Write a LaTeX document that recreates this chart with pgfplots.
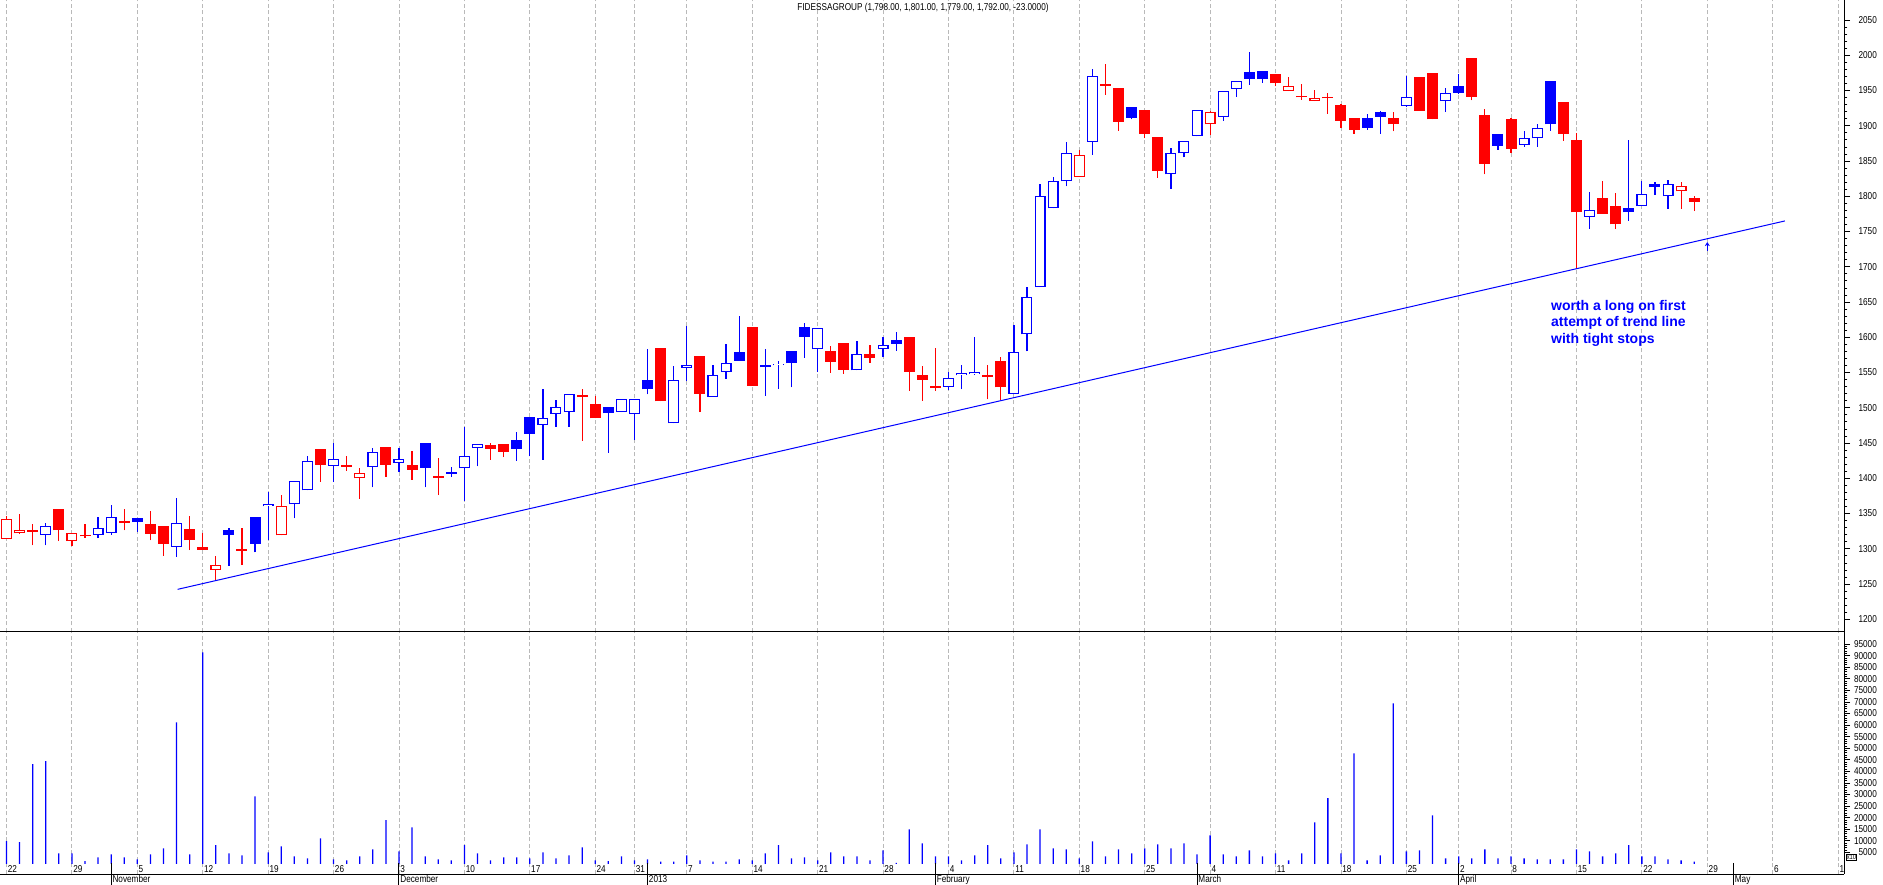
\documentclass[border=0pt]{standalone}
\usepackage{pgfplots}
\pgfplotsset{compat=1.18}
\usepackage{pgfplotstable}
\usepackage{graphicx}
\usepackage{fontspec}
\setmainfont{Liberation Sans}
\usetikzlibrary{arrows.meta}

\definecolor{cred}{RGB}{255,0,0}
\definecolor{cblue}{RGB}{0,0,255}
\definecolor{cgrid}{RGB}{185,185,185}

\newcommand{\nl}[1]{\scalebox{0.82}[1]{#1}}

\tikzset{
  daylbl/.style={anchor=south west, inner sep=1.2bp, font=\fontsize{10bp}{12bp}\selectfont},
  monlbl/.style={anchor=north west, inner sep=1.2bp, font=\fontsize{10bp}{12bp}\selectfont},
}

\pgfplotstableread{
i O H L C b h V
0 1314 1346 1314 1342 0 1 9.9
1 1322 1350 1321 1327 0 1 9.4
2 1326 1335 1305 1325 0 0 43.1
3 1320 1337 1305 1333 1 1 44.4
4 1356 1357 1311 1326 0 0 4.6
5 1311 1322 1304 1322 0 1 4.6
6 1320 1335 1316 1318 0 0 1.2
7 1320 1345 1315 1330 1 1 2.9
8 1323 1362 1320 1345 1 1 4.2
9 1340 1356 1326 1337 0 0 2.9
10 1343 1343 1324 1338 1 0 2.0
11 1335 1354 1312 1321 0 0 4.2
12 1332 1333 1290 1307 0 0 6.8
13 1303 1372 1289 1336 1 1 61.2
14 1328 1347 1298 1312 0 0 4.2
15 1303 1322 1299 1299 0 0 91.4
16 1270 1290 1255 1277 0 1 8.1
17 1327 1329 1276 1319 1 0 4.6
18 1299 1330 1277 1298 0 0 3.7
19 1345 1345 1295 1307 1 0 29.2
20 1360 1380 1312 1364 1 1 5.0
21 1319 1376 1319 1360 0 1 7.6
22 1363 1396 1343 1396 1 1 3.3
23 1383 1432 1383 1425 1 1 2.4
24 1442 1442 1395 1419 0 0 11.1
25 1418 1450 1395 1427 1 1 2.0
26 1418 1432 1411 1417 0 0 1.6
27 1400 1414 1371 1408 0 1 3.3
28 1416 1443 1387 1438 1 1 6.3
29 1444 1444 1402 1419 0 0 18.9
30 1422 1443 1409 1427 1 1 5.5
31 1419 1439 1398 1412 0 0 15.8
32 1450 1450 1387 1415 1 0 3.3
33 1402 1429 1376 1401 0 0 2.0
34 1407 1416 1402 1408 1 0 1.6
35 1414 1473 1368 1431 1 1 8.1
36 1443 1448 1417 1448 1 1 4.6
37 1447 1450 1426 1442 0 0 1.6
38 1448 1448 1430 1438 0 0 2.9
39 1454 1466 1425 1442 1 0 2.9
40 1487 1487 1431 1463 1 0 2.4
41 1476 1526 1426 1485 1 1 5.0
42 1491 1511 1473 1501 1 1 2.4
43 1494 1519 1473 1519 1 1 3.7
44 1517 1526 1453 1516 0 0 7.2
45 1506 1517 1485 1485 0 0 1.6
46 1501 1501 1436 1492 1 0 1.2
47 1494 1512 1494 1512 1 1 3.3
48 1491 1513 1454 1513 1 1 1.6
49 1539 1583 1519 1526 1 0 2.0
50 1585 1585 1509 1509 0 0 1.0
51 1478 1559 1478 1539 1 1 1.0
52 1557 1616 1538 1560 1 1 3.7
53 1573 1573 1494 1520 0 0 1.6
54 1516 1561 1516 1546 1 1 1.0
55 1551 1590 1541 1563 1 1 1.0
56 1579 1630 1567 1567 1 0 2.0
57 1614 1614 1531 1531 0 0 1.6
58 1560 1583 1517 1558 1 0 4.6
59 1561 1566 1527 1562 1 1 8.1
60 1581 1581 1529 1563 1 0 2.4
61 1614 1620 1571 1601 1 0 2.9
62 1583 1613 1551 1613 1 1 1.6
63 1581 1588 1550 1565 0 0 5.0
64 1592 1592 1548 1554 0 0 3.3
65 1553 1595 1553 1576 1 1 3.3
66 1576 1589 1564 1571 0 0 1.6
67 1583 1600 1572 1589 1 1 5.9
68 1596 1607 1581 1591 1 0 0.5
69 1600 1600 1524 1551 0 0 15.0
70 1547 1559 1510 1540 0 0 8.9
71 1531 1585 1524 1528 0 0 3.3
72 1530 1551 1525 1542 1 1 3.3
73 1546 1561 1526 1549 1 1 1.6
74 1548 1600 1547 1551 1 1 3.7
75 1546 1561 1512 1544 0 0 8.1
76 1566 1572 1511 1529 0 0 2.4
77 1520 1618 1519 1579 1 1 5.0
78 1604 1671 1580 1657 1 1 8.5
79 1671 1818 1671 1801 1 1 15.0
80 1783 1827 1783 1821 1 1 6.8
81 1821 1877 1814 1862 1 1 6.3
82 1827 1866 1827 1859 0 1 2.4
83 1877 1980 1859 1971 1 1 9.8
84 1959 1988 1944 1957 0 0 3.3
85 1954 1954 1893 1906 0 0 6.3
86 1927 1927 1909 1911 1 0 4.6
87 1922 1922 1882 1889 0 0 6.8
88 1884 1884 1826 1836 0 0 8.5
89 1831 1868 1811 1861 1 1 6.8
90 1861 1878 1855 1878 1 1 8.9
91 1886 1923 1885 1922 1 1 4.2
92 1902 1921 1887 1920 0 1 12.4
93 1913 1950 1907 1950 1 1 4.2
94 1952 1963 1941 1963 1 1 3.3
95 1976 2005 1958 1966 1 0 5.9
96 1977 1977 1961 1967 1 0 3.3
97 1973 1973 1956 1960 0 0 4.6
98 1949 1969 1949 1957 0 1 1.6
99 1942 1959 1937 1941 0 0 4.6
100 1935 1951 1935 1940 0 1 18.0
101 1941 1946 1917 1939 0 0 28.4
102 1930 1931 1897 1907 0 0 4.6
103 1911 1911 1889 1894 0 0 47.8
104 1911 1917 1894 1897 1 0 1.6
105 1920 1921 1889 1913 1 0 3.7
106 1911 1920 1892 1902 0 0 69.4
107 1928 1970 1927 1941 1 1 5.5
108 1969 1969 1921 1921 0 0 5.9
109 1975 1975 1909 1909 0 0 21.0
110 1935 1954 1920 1946 1 1 2.4
111 1957 1973 1945 1947 1 0 3.3
112 1996 1996 1936 1941 0 0 2.4
113 1915 1924 1831 1846 0 0 6.3
114 1888 1888 1866 1872 1 0 2.4
115 1910 1911 1862 1867 0 0 3.3
116 1873 1893 1870 1882 1 1 2.4
117 1882 1903 1870 1897 1 1 2.0
118 1963 1963 1893 1902 1 0 2.0
119 1934 1934 1879 1889 0 0 2.0
120 1880 1890 1697 1777 0 0 6.3
121 1771 1806 1754 1781 1 1 5.5
122 1798 1822 1775 1775 0 0 3.3
123 1786 1805 1754 1760 0 0 4.6
124 1784 1880 1765 1777 1 0 8.1
125 1786 1821 1786 1803 1 1 3.3
126 1817 1820 1802 1813 1 0 3.3
127 1800 1823 1782 1818 1 1 2.0
128 1807 1820 1782 1815 0 1 1.6
129 1798 1801 1779 1792 0 0 1.0
}\ohlc

\pgfplotstablegetrowsof{\ohlc}
\pgfmathtruncatemacro\lastrow{\pgfplotsretval-1}

\begin{document}
\begin{tikzpicture}
\path[use as bounding box] (0,0) rectangle (1883bp,885bp);

% ---------------- price panel ----------------
\begin{axis}[
  at={(0bp,253bp)}, anchor=south west,
  scale only axis, width=1844bp, height=632bp,
  xmin=-0.497, xmax=140.45, ymin=1182, ymax=2078.4,
  axis x line=bottom, axis y line=right,
  axis line style={-, black, line width=1bp},
  xtick={0,5,10,15,20,25,30,35,40,45,48,52,57,62,67,72,77,82,87,92,97,102,107,111,115,120,125,130,135,140},
  xticklabels={}, xmajorticks=false,
  xmajorgrids,
  major grid style={cgrid, dash pattern=on 4bp off 2.5bp, line width=0.9bp},
  ytick={1200,1250,...,2050}, minor y tick num=4,
  ytick align=outside, major tick length=6bp, minor tick length=3.3bp,
  tick style={black, line width=0.8bp},
  yticklabel style={font=\fontsize{10bp}{12bp}\selectfont, anchor=east, inner sep=0pt, xshift=27bp},
  yticklabel={\nl{\pgfmathprintnumber[assume math mode=true, fixed, 1000 sep={}]{\tick}}},
]
% candles: wick (low-high), body (open-close), white interior for rising days
\pgfplotsinvokeforeach{0,...,\lastrow}{
  \pgfplotstablegetelem{#1}{O}\of\ohlc \let\vO=\pgfplotsretval
  \pgfplotstablegetelem{#1}{H}\of\ohlc \let\vH=\pgfplotsretval
  \pgfplotstablegetelem{#1}{L}\of\ohlc \let\vL=\pgfplotsretval
  \pgfplotstablegetelem{#1}{C}\of\ohlc \let\vC=\pgfplotsretval
  \pgfplotstablegetelem{#1}{b}\of\ohlc \let\vb=\pgfplotsretval
  \pgfplotstablegetelem{#1}{h}\of\ohlc \let\vh=\pgfplotsretval
  \ifnum\vb=1 \def\vcol{cblue}\else\def\vcol{cred}\fi
  \pgfmathsetmacro\vmid{(\vO+\vC)/2}
  \pgfmathsetmacro\vhalf{max(abs(\vC-\vO)/2,1.2)}
  \pgfmathsetmacro\vbot{\vmid-\vhalf}
  \pgfmathsetmacro\vtop{\vmid+\vhalf}
  \pgfmathsetmacro\vhb{\vmid-max(\vhalf-1.42,0.05)}
  \pgfmathsetmacro\vht{\vmid+max(\vhalf-1.42,0.05)}
  \edef\temp{%
    \noexpand\addplot[\vcol, line width=1.2bp, mark=none, forget plot] coordinates {(#1,\vL) (#1,\vH)};%
    \noexpand\addplot[\vcol, line width=11bp, line cap=butt, mark=none, forget plot] coordinates {(#1,\vbot) (#1,\vtop)};%
  }\temp
  \ifnum\vh=1
    \edef\temp{\noexpand\addplot[white, line width=8.6bp, line cap=butt, mark=none, forget plot] coordinates {(#1,\vhb) (#1,\vht)};}\temp
  \fi
}
% trend line
\addplot[cblue, line width=1bp, mark=none] coordinates {(13.08,1242.5) (135.93,1765.0)};
\draw[cblue, line width=1.3bp, -{Stealth[length=4bp,width=5bp]}] (axis cs:130,1722.5) -- (axis cs:130,1735);
\node[anchor=north west, align=left, text=cblue, inner sep=0pt,
      font=\fontsize{14bp}{16.5bp}\selectfont\bfseries] at (axis cs:118.05,1653)
  {worth a long on first\\attempt of trend line\\with tight stops};
\end{axis}

% ---------------- volume panel ----------------
\begin{axis}[
  at={(0bp,11bp)}, anchor=south west,
  scale only axis, width=1844bp, height=242bp, clip=false,
  xmin=-0.497, xmax=140.45, ymin=-4320, ymax=100200,
  axis x line=bottom, axis y line=right,
  axis line style={-, black, line width=1bp},
  xtick={0,5,10,15,20,25,30,35,40,45,48,52,57,62,67,72,77,82,87,92,97,102,107,111,115,120,125,130,135,140},
  xticklabels={}, xmajorticks=false,
  xmajorgrids,
  major grid style={cgrid, dash pattern=on 4bp off 2.5bp, line width=0.9bp},
  ytick={5000,10000,...,95000}, minor y tick num=4, scaled y ticks=false,
  ytick align=outside, major tick length=6bp, minor tick length=3.3bp,
  tick style={black, line width=0.8bp},
  yticklabel style={font=\fontsize{10bp}{12bp}\selectfont, anchor=east, inner sep=0pt, xshift=27bp},
  yticklabel={\nl{\pgfmathprintnumber[assume math mode=true, fixed, 1000 sep={}]{\tick}}},
]
\addplot[ybar, bar width=1.3bp, fill=cblue, draw=none] table[x=i, y expr=\thisrow{V}*1000] {\ohlc};
% day labels
\node[daylbl] at (axis cs:0,-4320) {\nl{22}};
\node[daylbl] at (axis cs:5,-4320) {\nl{29}};
\node[daylbl] at (axis cs:10,-4320) {\nl{5}};
\node[daylbl] at (axis cs:15,-4320) {\nl{12}};
\node[daylbl] at (axis cs:20,-4320) {\nl{19}};
\node[daylbl] at (axis cs:25,-4320) {\nl{26}};
\node[daylbl] at (axis cs:30,-4320) {\nl{3}};
\node[daylbl] at (axis cs:35,-4320) {\nl{10}};
\node[daylbl] at (axis cs:40,-4320) {\nl{17}};
\node[daylbl] at (axis cs:45,-4320) {\nl{24}};
\node[daylbl] at (axis cs:48,-4320) {\nl{31}};
\node[daylbl] at (axis cs:52,-4320) {\nl{7}};
\node[daylbl] at (axis cs:57,-4320) {\nl{14}};
\node[daylbl] at (axis cs:62,-4320) {\nl{21}};
\node[daylbl] at (axis cs:67,-4320) {\nl{28}};
\node[daylbl] at (axis cs:72,-4320) {\nl{4}};
\node[daylbl] at (axis cs:77,-4320) {\nl{11}};
\node[daylbl] at (axis cs:82,-4320) {\nl{18}};
\node[daylbl] at (axis cs:87,-4320) {\nl{25}};
\node[daylbl] at (axis cs:92,-4320) {\nl{4}};
\node[daylbl] at (axis cs:97,-4320) {\nl{11}};
\node[daylbl] at (axis cs:102,-4320) {\nl{18}};
\node[daylbl] at (axis cs:107,-4320) {\nl{25}};
\node[daylbl] at (axis cs:111,-4320) {\nl{2}};
\node[daylbl] at (axis cs:115,-4320) {\nl{8}};
\node[daylbl] at (axis cs:120,-4320) {\nl{15}};
\node[daylbl] at (axis cs:125,-4320) {\nl{22}};
\node[daylbl] at (axis cs:130,-4320) {\nl{29}};
\node[daylbl] at (axis cs:135,-4320) {\nl{6}};
\node[daylbl] at (axis cs:140,-4320) {\nl{1}};
% month separators (11bp above and below the bottom line) and names
\draw[black, line width=1bp] (axis cs:8,431) -- (axis cs:8,-9071);
\draw[black, line width=1bp] (axis cs:30,431) -- (axis cs:30,-9071);
\draw[black, line width=1bp] (axis cs:49,431) -- (axis cs:49,-9071);
\draw[black, line width=1bp] (axis cs:71,431) -- (axis cs:71,-9071);
\draw[black, line width=1bp] (axis cs:91,431) -- (axis cs:91,-9071);
\draw[black, line width=1bp] (axis cs:111,431) -- (axis cs:111,-9071);
\draw[black, line width=1bp] (axis cs:132,431) -- (axis cs:132,-9071);
\node[monlbl] at (axis cs:8,-4320) {\nl{November}};
\node[monlbl] at (axis cs:30,-4320) {\nl{December}};
\node[monlbl] at (axis cs:49,-4320) {\nl{2013}};
\node[monlbl] at (axis cs:71,-4320) {\nl{February}};
\node[monlbl] at (axis cs:91,-4320) {\nl{March}};
\node[monlbl] at (axis cs:111,-4320) {\nl{April}};
\node[monlbl] at (axis cs:132,-4320) {\nl{May}};
\end{axis}

\node[font=\fontsize{10bp}{12bp}\selectfont] at (923bp,877bp)
  {\nl{FIDESSAGROUP (1,798.00, 1,801.00, 1,779.00, 1,792.00, -23.0000)}};
\node[font=\fontsize{7bp}{8bp}\selectfont, draw=black, line width=0.5bp, inner sep=0.6bp, anchor=west] at (1846bp,28bp) {\nl{x10}};
\end{tikzpicture}
\end{document}
